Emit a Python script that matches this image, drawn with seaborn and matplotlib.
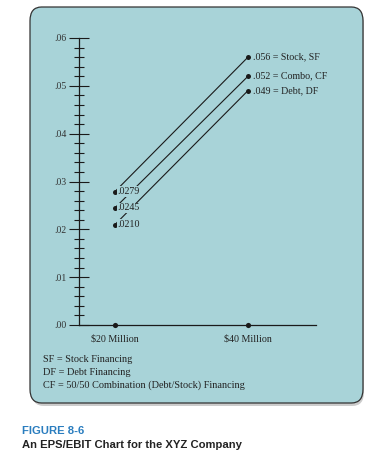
import numpy as np
import pandas as pd
import matplotlib
matplotlib.use('Agg')
import matplotlib.pyplot as plt
from matplotlib.patches import FancyBboxPatch
from matplotlib.ticker import FuncFormatter, MultipleLocator
import seaborn as sns

# data
ebit = [20, 40]
ebit_labels = ['$20 Million', '$40 Million']
plans = ['Stock, SF', 'Combo, CF', 'Debt, DF']
eps_20 = [0.0279, 0.0245, 0.0210]
eps_40 = [0.056, 0.052, 0.049]
low_labels = ['.0279', '.0245', '.0210']
high_labels = ['.056', '.052', '.049']
notes = ['SF = Stock Financing', 'DF = Debt Financing',
         'CF = 50/50 Combination (Debt/Stock) Financing']

rows = []
for p, a, b in zip(plans, eps_20, eps_40):
    rows.append({'ebit': ebit[0], 'eps': a, 'plan': p})
    rows.append({'ebit': ebit[1], 'eps': b, 'plan': p})
df = pd.DataFrame(rows)

panel = '#a8d3d8'
ink = '#222222'
serif = ['Liberation Serif', 'DejaVu Serif']

sns.set_style('white')
plt.rcParams['font.family'] = serif

W, H = 385, 462
fig = plt.figure(figsize=(W / 100, H / 100), dpi=100)

# rounded panel with a soft shadow
shadow = FancyBboxPatch((32 / W, 1 - 406 / H), 332 / W, 396 / H,
                        boxstyle='round,pad=0,rounding_size=0.03',
                        transform=fig.transFigure, fc='#9a9a9a', ec='none',
                        alpha=0.5, zorder=0)
box = FancyBboxPatch((30 / W, 1 - 403 / H), 333 / W, 396 / H,
                     boxstyle='round,pad=0,rounding_size=0.03',
                     transform=fig.transFigure, fc=panel, ec='#333333',
                     lw=0.9, zorder=1)
fig.patches.extend([shadow, box])

ax = fig.add_axes([79 / W, (H - 325) / H, 237 / W, 287 / H])
ax.set_facecolor('none')
ax.set_zorder(2)

sns.lineplot(data=df, x='ebit', y='eps', hue='plan',
             palette=['#1a1a1a'] * 3, legend=False, lw=0.8,
             marker='o', markersize=3.6, markeredgewidth=0, ax=ax)
sns.scatterplot(x=ebit, y=[0, 0], color='#1a1a1a', s=14, linewidth=0,
                clip_on=False, zorder=5, ax=ax)

for x0, y0, t in zip([ebit[0]] * 3, eps_20, low_labels):
    ax.annotate(t, (x0, y0), xytext=(2, 0), textcoords='offset points',
                ha='left', va='center', fontsize=7.2, color=ink,
                bbox=dict(fc=panel, ec='none', pad=0.4))
for x0, y0, t, p in zip([ebit[1]] * 3, eps_40, high_labels, plans):
    ax.annotate(t + ' = ' + p, (x0, y0), xytext=(3.5, 0),
                textcoords='offset points', ha='left', va='center',
                fontsize=7.2, color=ink,
                bbox=dict(fc=panel, ec='none', pad=0.4))

ax.set_xlim(14.586, 50.23)
ax.set_ylim(0, 0.06)
ax.set_xticks(ebit)
ax.set_xticklabels(ebit_labels)
ax.yaxis.set_major_locator(MultipleLocator(0.01))
ax.yaxis.set_minor_locator(MultipleLocator(0.002))
ax.yaxis.set_major_formatter(FuncFormatter(lambda v, _: f'{v:.2f}'.lstrip('0')))
ax.tick_params(axis='y', which='major', left=True, direction='inout',
               length=14.4, width=0.8, color='#1a1a1a', pad=1.5,
               labelsize=7, labelcolor='#333333')
ax.tick_params(axis='y', which='minor', left=True, direction='inout',
               length=7.2, width=0.8, color='#1a1a1a')
ax.tick_params(axis='x', bottom=False, length=0, pad=7, labelsize=7.2,
               labelcolor=ink)
ax.set_xlabel('')
ax.set_ylabel('')
sns.despine(ax=ax)
for s in ['left', 'bottom']:
    ax.spines[s].set_color('#1a1a1a')
    ax.spines[s].set_linewidth(0.9)

for i, n in enumerate(notes):
    fig.text(43 / W, 1 - (360 + 12.5 * i) / H, n, ha='left', va='center',
             fontsize=7.4, color=ink, zorder=3)

cap = ['Liberation Sans', 'DejaVu Sans']
fig.text(22 / W, 1 - 431 / H, 'FIGURE 8-6', ha='left', va='center',
         fontsize=8.1, fontweight='bold', color='#2a7dbf', family=cap)
fig.text(22 / W, 1 - 445 / H, 'An EPS/EBIT Chart for the XYZ Company',
         ha='left', va='center', fontsize=8.1, fontweight='bold',
         color='#222222', family=cap)

fig.savefig('out.png', dpi=100, facecolor='white')
